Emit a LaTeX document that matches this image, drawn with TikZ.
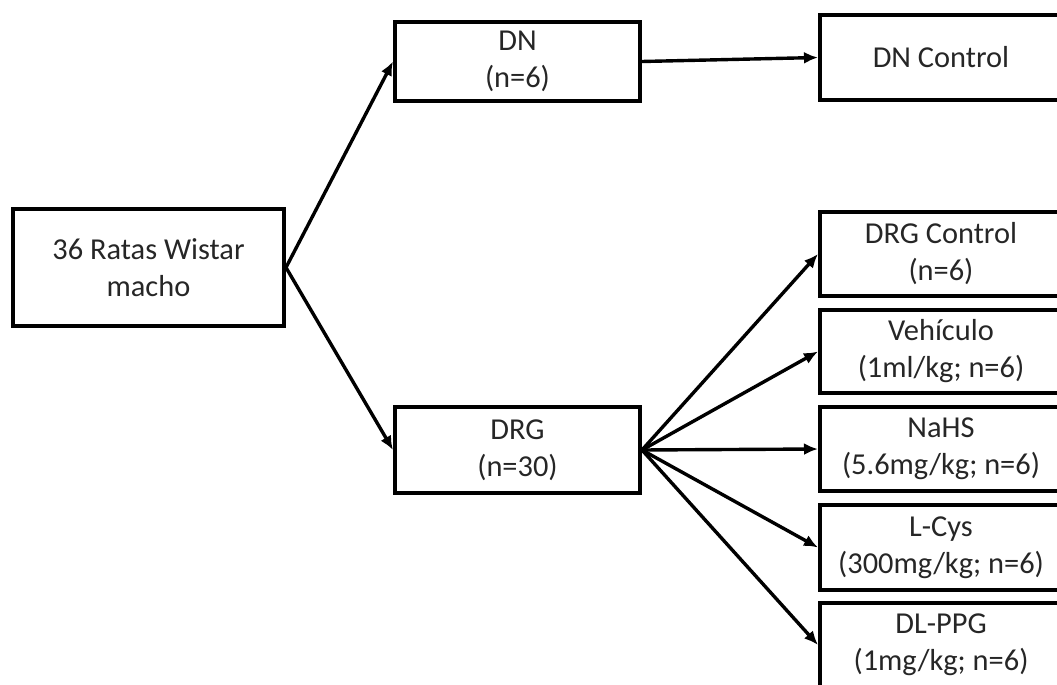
\documentclass[tikz,border=0pt]{standalone}
\usepackage{fontspec}
\setmainfont{Carlito}
\usetikzlibrary{arrows.meta}
\begin{document}
\begin{tikzpicture}[x=0.5pt,y=-0.5pt,
    caja/.style={draw,line width=2pt,align=center,inner sep=0pt,text=black!85,font=\fontsize{15.2}{18.5}\selectfont},
    flecha/.style={line width=1.7pt,-{Latex[length=7pt,width=6pt]}}]
        \useasboundingbox (0,0) rectangle (1057,685);
        \clip (0,0) rectangle (1057,685);

        \node[caja,minimum width=135.5pt,minimum height=58.5pt] (rats) at (148.5,267.5) {36 Ratas Wistar\\macho};
        \node[caja,minimum width=122.5pt,minimum height=39.5pt] (dn) at (517.5,61.5) {DN\\(n=6)};
        \node[caja,minimum width=122.5pt,minimum height=43pt] (drg) at (517.5,450) {DRG\\(n=30)};

        \node[caja,minimum width=121pt,minimum height=42.5pt] (dnctl) at (941,57.5) {DN Control};
        \node[caja,minimum width=121pt,minimum height=42pt] (drgctl) at (941,254) {DRG Control\\(n=6)};
        \node[caja,minimum width=121pt,minimum height=41.5pt] (vehiculo) at (941,351.5) {Vehículo\\(1ml/kg; n=6)};
        \node[caja,minimum width=121pt,minimum height=42pt] (nahs) at (941,449) {NaHS\\(5.6mg/kg; n=6)};
        \node[caja,minimum width=121pt,minimum height=42.5pt] (lcys) at (941,547.5) {L-Cys\\(300mg/kg; n=6)};
        \node[caja,minimum width=121pt,minimum height=42pt] (dlppg) at (941,645) {DL-PPG\\(1mg/kg; n=6)};

        \draw[flecha] (rats.east) -- (dn.west);
        \draw[flecha] (rats.east) -- (drg.west);
        \draw[flecha] (dn.east) -- (dnctl.west);
        \foreach \destino in {drgctl,vehiculo,nahs,lcys,dlppg}
            \draw[flecha] (drg.east) -- (\destino.west);
    \end{tikzpicture}
\end{document}
